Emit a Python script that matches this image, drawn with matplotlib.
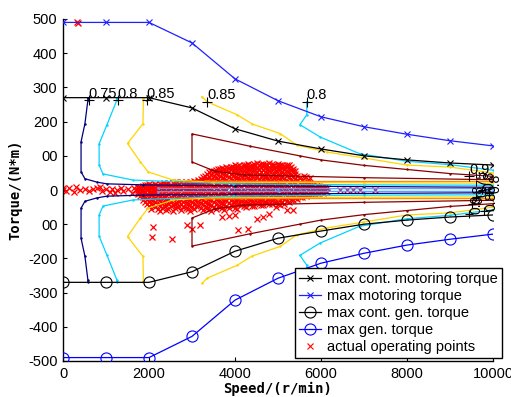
import matplotlib
matplotlib.use("Agg")
import matplotlib.pyplot as plt
from matplotlib.lines import Line2D

# ---------------- data ----------------
speed_grid = [0, 1000, 2000, 3000, 4000, 5000, 6000, 7000, 8000, 9000, 10000]
max_cont_motor = [270, 270, 270, 240, 179, 143, 120, 100, 88, 79, 73]
max_motor = [490, 490, 490, 430, 325, 261, 214, 185, 163, 144, 129]
max_cont_gen = [-270, -270, -270, -239, -179, -141, -120, -100, -88, -79, -73]
max_gen = [-490, -490, -490, -428, -322, -258, -214, -185, -161, -144, -129]

# efficiency contours (upper half, mirrored for generating side)
c075_speed = [580, 580, 510, 420, 420, 510, 790, 1020, 1860, 4000, 7000, 10000]
c075_torque = [270, 264, 194, 141, 53, 33, 23, 18, 15, 12, 10, 8]
c080a_speed = [1250, 1250, 1020, 840, 840, 930, 1630, 3950, 7000, 10000]
c080a_torque = [270, 262, 190, 135, 73, 47, 29, 18, 15, 14]
c080b_speed = [5670, 5670, 5510, 5980, 6900, 8000, 9000, 10000]
c080b_torque = [258, 220, 191, 155, 106, 84, 74, 58]
c085a_speed = [1870, 1870, 1860, 1500, 1800, 1980, 2560, 3490, 7000, 10000]
c085a_torque = [270, 265, 194, 136, 82, 53, 29, 23, 21, 20]
c085b_speed = [3230, 3350, 4050, 4400, 5050, 5440, 6140, 6980, 8000, 9000, 10000]
c085b_torque = [273, 258, 220, 193, 165, 131, 111, 94, 73, 67, 50]
c090_speed = [10000, 9000, 8000, 7000, 6000, 5500, 4350, 3000, 3000, 3530, 4200, 7000, 10000]
c090_torque = [40, 48, 60, 72, 88, 100, 128, 164, 82, 55, 44, 36, 30]
# inner low-torque band lines
band_orange_speed = [3300, 5000, 10000]
band_orange_torque = [26, 25, 25]
band_lblue_speed = [2200, 5000, 10000]
band_lblue_torque = [5, 4, 4]

# contour labels
label_text = ["0.75", "0.8", "0.85", "0.85", "0.8", "0.9"]
label_speed = [600, 1270, 1950, 3350, 5670, 9450]
label_torque = [262, 262, 262, 258, 258, 40]
stack_text = ["0.8", "0.85", "0.75", "0.8", "0.9", "0.8"]
stack_speed = [9500, 9800, 9600, 9900, 9450, 9750]
stack_torque = [-40, -60, -20, -10, -70, 0]

# actual operating points (columns of torque values read per speed)
op_columns = {
    1750: [-12, -5, 0, 5, 10],
    1800: [-18, -8, 2, 8],
    1850: [-30, -20, -10, -3, 4, 12],
    1900: [-35, -22, -6, 6, 14],
    1950: [-40, -25, -12, 0, 8, 15],
    2000: [-48, -33, -18, -2, 10, 17],
    2050: [-55, -40, -28, -15, -5, 5, 15],
    2100: [-44, -30, -20, -8, 2, 12],
    2150: [-50, -35, -22, -10, 0, 10, 18],
    2200: [-56, -40, -26, -14, -2, 14],
    2250: [-60, -45, -30, -18, -5, 8, 18],
    2300: [-52, -38, -24, -12, 5, 16],
    2350: [-48, -35, -20, -8, 3, 14, 20],
    2400: [-58, -44, -30, -16, -4, 8, 18],
    2450: [-55, -40, -25, -12, 0, 12, 20],
    2500: [-48, -34, -20, -6, 6, 16],
    2550: [-62, -45, -30, -15, -3, 10, 20],
    2600: [-54, -40, -26, -12, 2, 14, 22],
    2650: [-50, -38, -22, -8, 5, 15, 22],
    2700: [-46, -32, -18, -4, 8, 18],
    2750: [-58, -42, -28, -15, 0, 12, 22],
    2800: [-50, -36, -20, -6, 6, 18],
    2850: [-52, -38, -25, -10, 3, 15, 22],
    2900: [-56, -40, -26, -12, 0, 12, 20],
    2950: [-60, -45, -30, -15, -2, 10, 24],
    3000: [-50, -36, -20, -6, 8, 20],
    3050: [-55, -40, -25, -10, 5, 18, 25],
    3100: [-46, -30, -16, -2, 12, 24],
    3150: [-48, -35, -20, -5, 10, 22, 28],
    3200: [-54, -38, -24, -8, 6, 20, 32],
    3250: [-58, -42, -28, -12, 2, 18, 30, 38],
    3300: [-50, -34, -18, -4, 12, 26, 42],
    3350: [-52, -38, -22, -8, 8, 22, 35, 48],
    3400: [-56, -40, -26, -10, 4, 20, 38, 52],
    3450: [-60, -45, -30, -15, 0, 15, 30, 45, 55],
    3500: [-50, -36, -20, -4, 12, 28, 42, 56],
    3550: [-55, -40, -25, -10, 5, 20, 35, 50, 58],
    3600: [-46, -30, -14, 2, 18, 32, 46, 60],
    3650: [-50, -35, -20, -5, 10, 25, 40, 52, 62],
    3700: [-54, -38, -24, -8, 6, 22, 36, 50, 64],
    3750: [-58, -42, -28, -12, 2, 18, 32, 48, 60],
    3800: [-46, -30, -16, 0, 14, 30, 44, 58, 66],
    3850: [-52, -38, -22, -8, 8, 22, 38, 52, 65],
    3900: [-44, -28, -12, 4, 18, 34, 48, 60, 68],
    3950: [-48, -35, -20, -5, 10, 25, 42, 55, 66],
    4000: [-52, -36, -22, -6, 8, 24, 38, 52, 64, 72],
    4050: [-55, -40, -25, -10, 5, 20, 35, 50, 62, 70],
    4100: [-40, -26, -12, 4, 18, 32, 46, 60, 72],
    4150: [-45, -32, -18, -3, 12, 28, 45, 58, 68],
    4200: [-48, -34, -18, -2, 14, 30, 44, 56, 66, 74],
    4250: [-50, -35, -20, -8, 8, 22, 38, 52, 65, 72],
    4300: [-38, -24, -8, 6, 20, 36, 50, 62, 76],
    4350: [-42, -30, -15, 0, 15, 30, 45, 60, 70],
    4400: [-46, -32, -18, -4, 12, 26, 42, 56, 66, 74],
    4450: [-48, -35, -20, -5, 10, 25, 40, 55, 68, 75],
    4500: [-36, -22, -6, 8, 22, 38, 52, 64, 78],
    4550: [-40, -28, -12, 2, 18, 32, 48, 62, 72],
    4600: [-44, -30, -16, -2, 12, 26, 40, 54, 66, 76],
    4650: [-45, -30, -15, 0, 15, 28, 42, 58, 70, 76],
    4700: [-34, -20, -6, 10, 24, 38, 52, 64, 74],
    4750: [-38, -25, -10, 5, 20, 35, 50, 62, 72],
    4800: [-40, -26, -12, 4, 18, 32, 46, 58, 68, 78],
    4850: [-42, -28, -12, 2, 18, 32, 48, 60, 70, 75],
    4900: [-36, -22, -8, 8, 22, 36, 50, 64, 74],
    4950: [-50, -35, -20, -5, 10, 25, 40, 55, 68],
    5000: [-42, -28, -14, 2, 16, 30, 44, 58, 70, 76],
    5050: [-45, -30, -15, 0, 15, 30, 45, 58, 70, 74],
    5100: [-36, -22, -6, 10, 24, 38, 52, 64, 74],
    5150: [-40, -25, -10, 5, 20, 35, 50, 62, 70],
    5200: [-32, -18, -4, 12, 26, 40, 54, 66, 72],
    5250: [-35, -20, -8, 8, 22, 38, 52, 65, 72],
    5300: [-28, -14, 0, 14, 30, 44, 58, 68],
    5350: [-30, -18, -5, 10, 25, 40, 55, 62],
    5400: [-24, -10, 4, 18, 32, 46, 56],
    5450: [-25, -12, 0, 12, 28, 42],
    5500: [-20, -6, 8, 22, 34],
    5550: [-20, -8, 5, 18, 30],
    5600: [-16, -2, 12, 24, 40],
    5650: [-18, -5, 8, 20, 38],
    5700: [-14, 0, 12, 22],
    5750: [-15, -3, 8, 15, 35],
    5800: [-10, 4, 14],
    5850: [-12, 0, 10],
    5900: [-8, 6, 14],
    5950: [-10, 2, 12],
    6000: [-6, 6],
    6050: [-8, 3, 10],
    6100: [-4, 8],
    6150: [-5, 5],
}
op_sparse_speed = [0, 0, 60, 150, 250, 300, 400, 500, 600, 700, 800, 850, 900, 1000,
                   1100, 1150, 1200, 1250, 1350, 1400, 1500, 1600, 1650, 1700,
                   320, 360, 6440, 6600, 6750, 6900, 7260, 5200, 5350, 4650,
                   2100, 2070, 2530, 2880, 3190, 3000, 3700, 3850, 4000, 4070,
                   4300, 4500, 4800]
op_sparse_torque = [0, 5, -3, 5, -5, 8, 0, 3, -4, 2, 6, 10, -2, 4,
                    -6, 3, -10, 0, 5, -4, 2, -8, 6, 0,
                    490, 488, 0, 0, 0, 0, 0, -59, -59, -79,
                    -108, -138, -143, -103, -103, -115, -79, -75, -72, -117,
                    -114, -85, -70]

xticks = [0, 2000, 4000, 6000, 8000, 10000]
yticks = [-500, -400, -300, -200, -100, 0, 100, 200, 300, 400, 500]
ytick_labels = ["-500", "-400", "-300", "-200", "00", "0", "00", "200", "300", "400", "500"]

# ---------------- plotting ----------------
plt.rcParams['font.family'] = ['Liberation Sans', 'DejaVu Sans']
fig = plt.figure(figsize=(5.11, 3.97), dpi=100)
ax = fig.add_axes([63 / 511, 1 - 361 / 397, 430 / 511, 342 / 397])

# operating points
op_s, op_t = [], []
for s, ts in op_columns.items():
    for t in ts:
        op_s.append(s)
        op_t.append(t)
op_s += op_sparse_speed
op_t += op_sparse_torque
ax.plot(op_s, op_t, ls='none', marker='x', color='red', ms=5, mew=0.9, zorder=2)

navy = '#000080'
cyan = '#00d4ff'
yellow = '#ffd400'
dred = '#8b0000'
contours = [(c075_speed, c075_torque, navy), (c080a_speed, c080a_torque, cyan),
            (c080b_speed, c080b_torque, cyan), (c085a_speed, c085a_torque, yellow),
            (c085b_speed, c085b_torque, yellow), (c090_speed, c090_torque, dred),
            (band_orange_speed, band_orange_torque, '#ff8c00'),
            (band_lblue_speed, band_lblue_torque, '#5aa0ff')]
for s, t, c in contours:
    ax.plot(s, t, color=c, lw=0.9, zorder=3, marker='.', ms=1.5)
    ax.plot(s, [-v for v in t], color=c, lw=0.9, zorder=3, marker='.', ms=1.5)

# contour labels
for txt, s, t in zip(label_text, label_speed, label_torque):
    ax.plot([s], [t], marker='+', color='black', ms=7, mew=0.8, zorder=5)
    ax.text(s, t + 8, txt, fontsize=10.5, ha='left', va='baseline', zorder=6)
for txt, s, t in zip(stack_text, stack_speed, stack_torque):
    ax.text(s, t, txt, fontsize=10, rotation=90, ha='left', va='bottom', zorder=6)
    ax.plot([s], [t], marker='+', color='black', ms=6, mew=0.8, zorder=5)

# max torque curves
ax.plot(speed_grid, max_cont_motor, color='black', lw=0.9, marker='x', ms=4, mew=0.8, zorder=4)
ax.plot(speed_grid, max_motor, color='#2020ff', lw=0.9, marker='x', ms=4, mew=0.8, zorder=4)
ax.plot(speed_grid, max_cont_gen, color='black', lw=0.9, marker='o', ms=8, mfc='none', mew=0.8, zorder=4)
ax.plot(speed_grid, max_gen, color='blue', lw=0.9, marker='o', ms=8, mfc='none', mew=0.8, zorder=4)

ax.set_xlim(0, 10000)
ax.set_ylim(-500, 500)
ax.set_xticks(xticks)
ax.set_xticklabels([str(v) for v in xticks])
ax.set_yticks(yticks)
ax.set_yticklabels(ytick_labels)
ax.tick_params(direction='in', length=3, labelsize=10.5, pad=4)
for sp in ['top', 'right']:
    ax.spines[sp].set_visible(False)
for sp in ['left', 'bottom']:
    ax.spines[sp].set_linewidth(1.0)

ax.set_xlabel("Speed/(r/min)", fontsize=10, fontweight='bold', family='DejaVu Sans Mono', labelpad=1)
ax.set_ylabel("Torque/(N*m)", fontsize=10, fontweight='bold', family='DejaVu Sans Mono', labelpad=4)

handles = [
    Line2D([], [], color='black', lw=0.9, marker='x', ms=4, mew=0.8),
    Line2D([], [], color='#2020ff', lw=0.9, marker='x', ms=4, mew=0.8),
    Line2D([], [], color='black', lw=0.9, marker='o', ms=8, mfc='none', mew=0.8),
    Line2D([], [], color='blue', lw=0.9, marker='o', ms=8, mfc='none', mew=0.8),
    Line2D([], [], color='red', ls='none', marker='x', ms=4, mew=0.8),
]
labels = ["max cont. motoring torque", "max motoring torque", "max cont. gen. torque",
          "max gen. torque", "actual operating points"]
leg = fig.legend(handles, labels, loc='lower right', bbox_to_anchor=(502 / 511, 1 - 358 / 397),
                 fontsize=10.5, frameon=True, fancybox=False, framealpha=1, edgecolor='black',
                 handlelength=1.5, handletextpad=0.4, labelspacing=0.2, borderpad=0.3,
                 borderaxespad=0)
leg.get_frame().set_linewidth(1.0)
leg.set_zorder(10)

fig.savefig("out.png", dpi=100)
